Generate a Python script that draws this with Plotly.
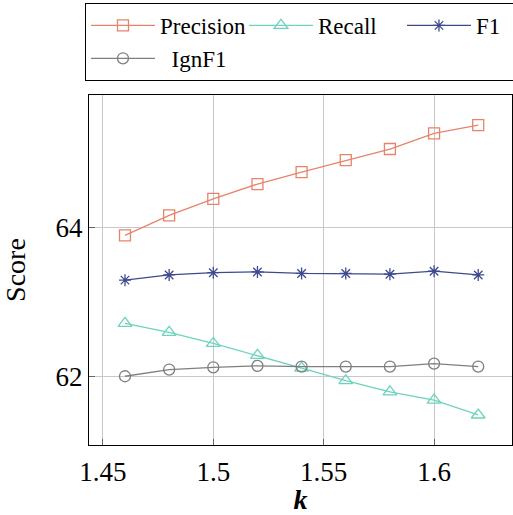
import plotly.graph_objects as go

k = [1.46, 1.48, 1.50, 1.52, 1.54, 1.56, 1.58, 1.60, 1.62]
precision = [63.90, 64.17, 64.39, 64.59, 64.75, 64.91, 65.06, 65.27, 65.38]
recall = [62.72, 62.60, 62.45, 62.29, 62.12, 61.95, 61.80, 61.69, 61.49]
f1 = [63.30, 63.37, 63.40, 63.41, 63.39, 63.39, 63.38, 63.42, 63.37]
ignf1 = [62.01, 62.10, 62.13, 62.15, 62.14, 62.14, 62.14, 62.18, 62.14]

x_ticks = [1.45, 1.5, 1.55, 1.6]
x_ticklabels = ["1.45", "1.5", "1.55", "1.6"]
y_ticks = [62, 64]
y_ticklabels = ["62", "64"]

series = [
    ("Precision", precision, "#E8836B", "square-open", 11),
    ("Recall", recall, "#6DD3BE", "triangle-up-open", 12),
    ("F1", f1, "#3E4A8D", "asterisk-open", 10),
    ("\u00a0\u00a0IgnF1", ignf1, "#7F7F7F", "circle-open", 11),
]

fig = go.Figure()
for name, vals, color, sym, size in series:
    fig.add_trace(go.Scatter(
        x=k, y=vals, name=name, mode="lines+markers",
        line=dict(color=color, width=1.3),
        marker=dict(symbol=sym, size=size, color=color, line=dict(color=color, width=1.3)),
    ))

font = "Liberation Serif, Times New Roman, serif"
fig.update_layout(
    width=513, height=515,
    margin=dict(l=89, r=1, t=95, b=70, autoexpand=False),
    paper_bgcolor="white", plot_bgcolor="white",
    font=dict(family=font, color="black", size=23),
    showlegend=True,
    legend=dict(
        orientation="h", x=-0.0095, xanchor="left", y=1.263, yanchor="top",
        bordercolor="black", borderwidth=1, bgcolor="white",
        font=dict(family=font, size=23), entrywidth=79, entrywidthmode="pixels",
        itemwidth=64, tracegroupgap=0,
    ),
    xaxis=dict(
        range=[1.4437, 1.6353], tickvals=x_ticks, ticktext=x_ticklabels,
        showgrid=True, gridcolor="#C8C8C8", gridwidth=1.3,
        showline=True, linecolor="black", linewidth=1, mirror=True,
        ticks="inside", ticklen=6, tickcolor="#666666", zeroline=False,
        tickfont=dict(family=font, size=27), automargin=False, ticklabelstandoff=3,
        title=dict(text="<b><i>k</i></b>", font=dict(family=font, size=28), standoff=2),
    ),
    yaxis=dict(
        range=[61.087, 65.785], tickvals=y_ticks, ticktext=y_ticklabels,
        showgrid=True, gridcolor="#C8C8C8", gridwidth=1.3,
        showline=True, linecolor="black", linewidth=1, mirror=True,
        ticks="inside", ticklen=6, tickcolor="#666666", zeroline=False,
        tickfont=dict(family=font, size=27), automargin=False,
        title=dict(text="Score", font=dict(family=font, size=28), standoff=22),
    ),
)

fig.write_html("out.html", config={"displayModeBar": False},
               post_script="document.body.style.margin='0';")
